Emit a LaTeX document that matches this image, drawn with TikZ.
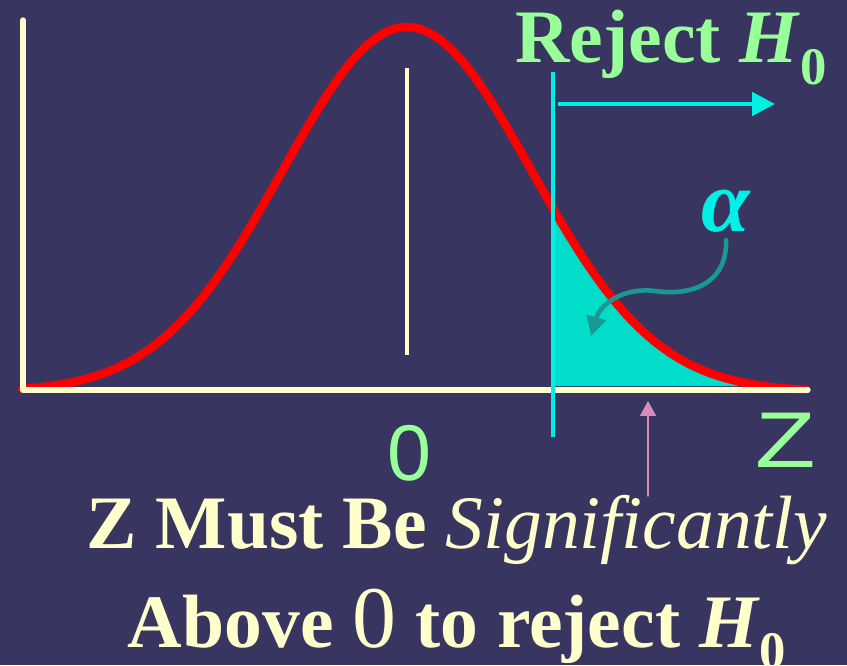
\documentclass[tikz,border=0pt]{standalone}
\usepackage{fontspec}
\setmainfont{Liberation Serif}
\newfontfamily\sansfont{Liberation Sans}
\usetikzlibrary{arrows.meta}
\definecolor{slide}{RGB}{56,53,96}
\definecolor{cream}{RGB}{255,255,204}
\definecolor{lightgreen}{RGB}{153,255,153}
\definecolor{aqua}{RGB}{0,240,230}
\definecolor{tailfill}{RGB}{0,221,200}
\definecolor{darkteal}{RGB}{26,152,148}
\definecolor{pinkish}{RGB}{217,140,191}
\tikzset{
  axisline/.style={cream, line width=3pt},
  bell/.style={red, line width=4.8pt},
  bigtext/.style={font=\fontsize{43}{50}\selectfont, inner sep=0pt},
  glyph/.style={font=\sansfont\fontsize{45}{45}\selectfont, inner sep=0pt},
}
\newcommand\subzero{\raisebox{-12pt}{\fontsize{30}{30}\selectfont\bfseries\upshape 0}}
\begin{document}
\begin{tikzpicture}[x=0.02cm, y=-0.02cm, line join=round, line cap=round]
  \def\xc{407} \def\sd{124.5} \def\base{390} \def\peak{365}
  \fill[slide] (0,0) rectangle (847,665);
  \useasboundingbox (0,0) rectangle (847,665);
  \path (23,20) coordinate(T) (23,390) coordinate(O) (808,390) coordinate(E)
        (407,68) coordinate(Ct) (407,355) coordinate(Cb)
        (553,72) coordinate(Rt) (553,437) coordinate(Rb)
        (558,104) coordinate(A1) (775,104) coordinate(A2)
        (591,336) coordinate(S) (648,496) coordinate(P0) (648,401) coordinate(P);
  % rejection area and curve
  \fill[tailfill] (553,386) -- plot[domain=553:808, samples=60]
      (\x,{\base-\peak*exp(-0.5*((\x-\xc)/\sd)*((\x-\xc)/\sd))}) -- (808,386) -- cycle;
  \draw[bell] plot[domain=22:806, samples=150]
      (\x,{\base+2-\peak*exp(-0.5*((\x-\xc)/\sd)*((\x-\xc)/\sd))});
  \draw[axisline] (T) -- (O) -- (E);
  \draw[cream, line width=1.8pt, line cap=butt] (Ct) -- (Cb);
  \draw[aqua, line width=2.8pt, line cap=butt] (Rt) -- (Rb);
  \draw[aqua, line width=2.8pt, line cap=butt, -{Triangle[length=13pt,width=13pt]}] (A1) -- (A2);
  % labels
  \node[bigtext, lightgreen, anchor=base west] (reject) at (515,63) {\bfseries Reject \textit{H}\subzero};
  \node[aqua, font=\bfseries\itshape\fontsize{50}{50}\selectfont, inner sep=0pt, anchor=base] (alpha) at (726,232) {α};
  \draw[darkteal, line width=2.6pt, shorten <=4pt, -{Triangle[length=11pt,width=11pt]}]
      (alpha.south) .. controls (727,285) and (690,296) .. (655,291)
      .. controls (622,287) and (600,305) .. (S);
  \node[glyph, lightgreen, anchor=base] (zero) at (409,480) {0};
  \node[glyph, lightgreen, anchor=base] (zlabel) at (786,467) {\scalebox{1.25}[1]{Z}};
  \node[bigtext, cream, anchor=base] (cap1) at (457,548) {\bfseries Z Must Be \mdseries\itshape Significantly};
  \node[bigtext, cream, anchor=base] (cap2) at (457,647)
      {\bfseries Above {\mdseries\fontsize{50}{50}\selectfont 0} to reject \textit{H}\subzero};
  \draw[pinkish, line width=1.1pt, -{Triangle[length=8.5pt,width=9pt]}] (P0) -- (P);
\end{tikzpicture}
\end{document}
